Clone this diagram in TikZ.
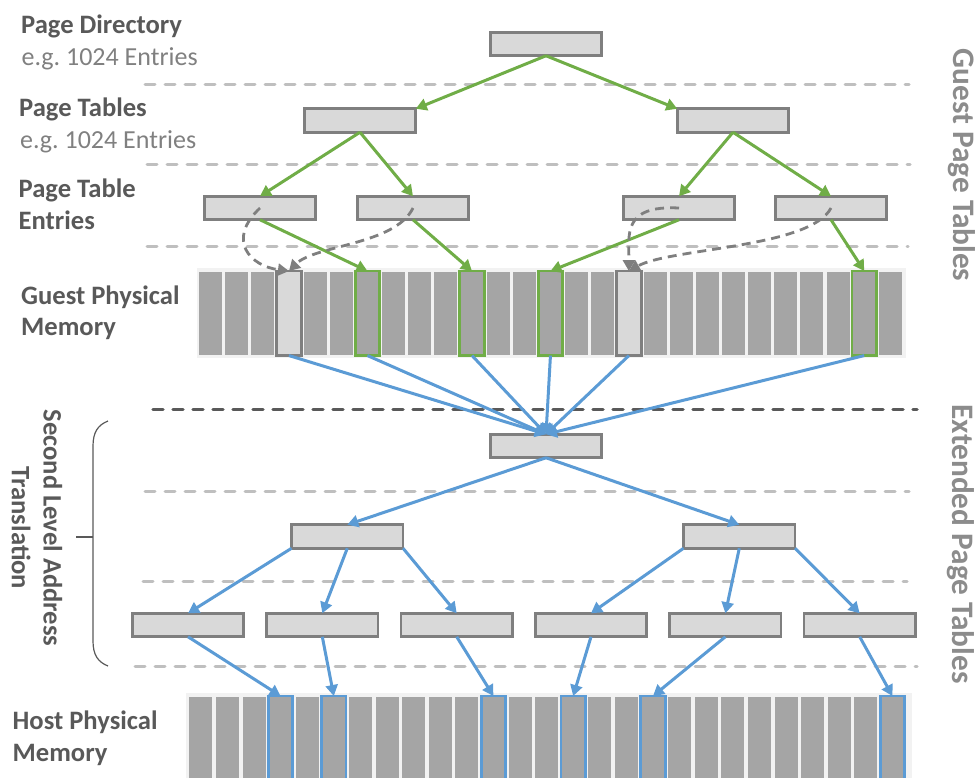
\documentclass[tikz,border=0pt]{standalone}
\usepackage{fontspec}
\setmainfont{Carlito}
\usetikzlibrary{arrows.meta}
\definecolor{gr}{HTML}{70AD47}
\definecolor{bl}{HTML}{5B9BD5}
\definecolor{boxfill}{HTML}{D9D9D9}
\definecolor{boxline}{HTML}{7F7F7F}
\definecolor{cellfill}{HTML}{A5A5A5}
\definecolor{stripbg}{HTML}{F2F2F2}
\definecolor{sepcol}{HTML}{BFBFBF}
\definecolor{darksep}{HTML}{595959}
\definecolor{labeldark}{HTML}{595959}
\definecolor{labelgray}{HTML}{808080}
\definecolor{sidegray}{HTML}{8C8C8C}
\begin{document}
\begin{tikzpicture}[x=1pt,y=-1pt,
  tbox/.style={draw=boxline, fill=boxfill, line width=2.6pt, minimum width=111.5pt, minimum height=23.5pt, inner sep=0pt, outer sep=0pt},
  gcell/.style={fill=cellfill, minimum width=23pt, minimum height=83pt, inner sep=0pt, outer sep=0pt},
  hcell/.style={fill=cellfill, minimum width=23pt, minimum height=100pt, inner sep=0pt, outer sep=0pt},
  greenhl/.style={draw=gr, line width=2.8pt, minimum width=24.5pt, minimum height=84.5pt, inner sep=0pt, outer sep=0pt},
  lighthl/.style={draw=boxline, fill=boxfill, line width=2.8pt, minimum width=24.5pt, minimum height=84.5pt, inner sep=0pt, outer sep=0pt},
  bluehl/.style={draw=bl, line width=2.8pt, minimum width=24.5pt, minimum height=102pt, inner sep=0pt, outer sep=0pt},
  sepline/.style={draw=sepcol, line width=3pt, dash pattern=on 10pt off 10pt, line cap=round},
  darkline/.style={draw=darksep, line width=3.5pt, dash pattern=on 10pt off 10pt, line cap=round},
  garrow/.style={draw=gr, line width=3pt, -{Triangle[length=11pt,width=12pt]}},
  barrow/.style={draw=bl, line width=3pt, -{Triangle[length=11pt,width=12pt]}},
  gdash/.style={draw=boxline, line width=2.8pt, dash pattern=on 9pt off 6pt, -{Triangle[length=11pt,width=12pt]}},
  leftlab/.style={font=\fontsize{26.6}{31.5}\selectfont\bfseries, text=labeldark, inner sep=0pt, align=left},
  eglab/.style={font=\fontsize{26}{31.5}\selectfont, text=labelgray, inner sep=0pt, anchor=base west},
  sidelab/.style={font=\fontsize{31.3}{36}\selectfont\bfseries, text=sidegray, inner sep=0pt, rotate=-90}
]
\useasboundingbox (0,0) rectangle (976,777);

% separators
\draw[sepline] (145,84.3) -- (909,84.3);
\draw[sepline] (147,164) -- (910,164);
\draw[sepline] (147,246) -- (908,246);
\draw[darkline] (153,409.3) -- (917,409.3);
\draw[sepline] (145,491) -- (909,491);
\draw[sepline] (143,581) -- (907,581);
\draw[sepline] (135,666) -- (917,666);

% left labels
\node[leftlab, anchor=base west] (lpd) at (21,33.3) {Page Directory};
\node[eglab] (lpde) at (21.5,65) {e.g.\ 1024 Entries};
\node[leftlab, anchor=base west] (lpt) at (19,116.7) {Page Tables};
\node[eglab] (lpte) at (20,148.3) {e.g.\ 1024 Entries};
\node[leftlab, anchor=west] (lpe) at (18.5,204.3) {Page Table\\Entries};
\node[leftlab, anchor=west] (lgm) at (21,312.9) {Guest Physical\\Memory};
\node[leftlab, anchor=west] (lhm) at (12.5,738.4) {Host Physical\\Memory};

% side labels
\node[sidelab] (sgpt) at (962,165) {Guest Page Tables};
\node[sidelab] (sept) at (961,544) {Extended Page Tables};
\node[font=\fontsize{26.6}{31.6}\selectfont\bfseries, text=labeldark, inner sep=0pt, rotate=-90, align=center] (slat) at (37,528) {Second Level Address\\Translation};

% brace
\draw[draw=labeldark, line width=1.2pt] (108,421) .. controls (98,425) and (93,432) .. (93,446) -- (93,641) .. controls (93,655) and (98,662) .. (108,666);
\draw[draw=labeldark, line width=1.2pt] (76,537) -- (93,537);

% guest memory strip
\fill[stripbg] (197,268) rectangle (906,358);
\foreach \i in {0,...,26} {
  \node[gcell] (g\i) at ({210.5+26.15*\i},313.3) {};
}
\node[lighthl] (G3) at (g3) {};
\node[lighthl] (G16) at (g16) {};
\node[greenhl] (G6) at (g6) {};
\node[greenhl] (G10) at (g10) {};
\node[greenhl] (G13) at (g13) {};
\node[greenhl] (G25) at (g25) {};

% host memory strip
\begin{scope}
\clip (0,0) rectangle (976,777);
\fill[stripbg] (186,693) rectangle (912,800);
\foreach \i in {0,...,26} {
  \node[hcell] (h\i) at ({200.8+26.6*\i},747) {};
}
\node[bluehl] (H3) at (h3) {};
\node[bluehl] (H5) at (h5) {};
\node[bluehl] (H11) at (h11) {};
\node[bluehl] (H14) at (h14) {};
\node[bluehl] (H17) at (h17) {};
\node[bluehl] (H26) at (h26) {};
\end{scope}

% guest page table boxes
\node[tbox] (pd) at (546,44) {};
\node[tbox] (ptl) at (360,120.5) {};
\node[tbox] (ptr) at (733,120.5) {};
\node[tbox] (pte1) at (260,208) {};
\node[tbox] (pte2) at (413,208) {};
\node[tbox] (pte3) at (679,208) {};
\node[tbox] (pte4) at (831,208) {};

% extended page table boxes
\node[tbox] (ept) at (546,446) {};
\node[tbox] (l2l) at (347.3,536.5) {};
\node[tbox] (l2r) at (739.3,536.5) {};
\node[tbox] (l3a) at (188,625) {};
\node[tbox] (l3b) at (322.3,625) {};
\node[tbox] (l3c) at (456.7,625) {};
\node[tbox] (l3d) at (591,625) {};
\node[tbox] (l3e) at (725.4,625) {};
\node[tbox] (l3f) at (859.7,625) {};

% green arrows
\draw[garrow] (pd.south) -- (ptl.north east);
\draw[garrow] (pd.south) -- (ptr.north west);
\draw[garrow] (ptl.south) -- (pte1.north);
\draw[garrow] (ptl.south) -- (pte2.north);
\draw[garrow] (ptr.south) -- (pte3.north);
\draw[garrow] (ptr.south) -- (pte4.north);
\draw[garrow] (pte1.south) -- (G6.north);
\draw[garrow] (pte2.south) -- (G10.north);
\draw[garrow] (pte3.south) -- (G13.north);
\draw[garrow] (pte4.south) -- (G25.north);

% gray dashed arrows
\draw[gdash] (pte1.center) .. controls (226,240) and (250,266) .. (G3.north);
\draw[gdash] (pte2.center) .. controls (395,245) and (315,245) .. (G3.north);
\draw[gdash] (pte3.center) .. controls (622,205) and (629,235) .. (G16.north);
\draw[gdash] (pte4.center) .. controls (810,248) and (670,248) .. (G16.north);

% blue arrows guest -> EPT
\foreach \c in {3,6,10,13,16,25} {
  \draw[barrow] (G\c.south) -- (ept.north);
}

% EPT tree
\draw[barrow] (ept.south) -- (l2l.north);
\draw[barrow] (ept.south) -- (l2r.north);
\draw[barrow] (l2l.south west) -- (l3a.north);
\draw[barrow] (l2l.south) -- (l3b.north);
\draw[barrow] (l2l.south east) -- (l3c.north);
\draw[barrow] (l2r.south west) -- (l3d.north);
\draw[barrow] (l2r.south) -- (l3e.north);
\draw[barrow] (l2r.south east) -- (l3f.north);

% EPT -> host
\draw[barrow] (l3a.south) -- (H3.north);
\draw[barrow] (l3b.south) -- (H5.north);
\draw[barrow] (l3c.south) -- (H11.north);
\draw[barrow] (l3d.south) -- (H14.north);
\draw[barrow] (l3e.south) -- (H17.north);
\draw[barrow] (l3f.south) -- (H26.north);
\end{tikzpicture}
\end{document}
